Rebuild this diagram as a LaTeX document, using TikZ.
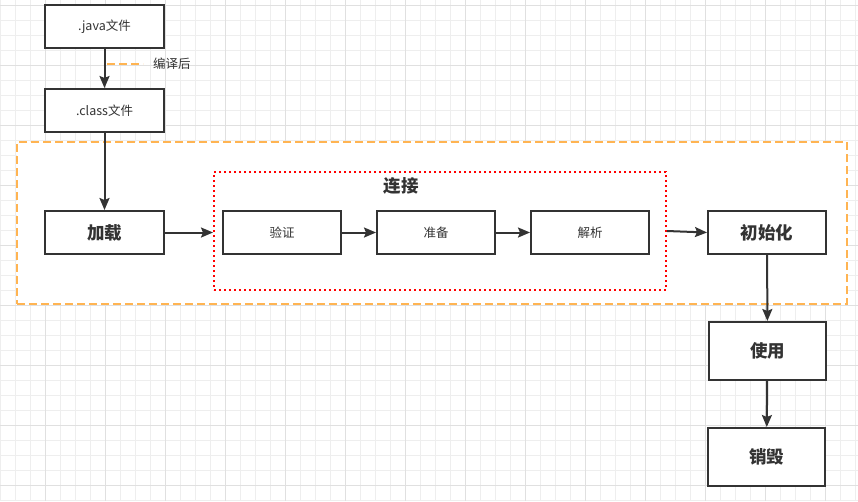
\documentclass[tikz,border=0pt]{standalone}
\usepackage{fontspec}
\setmainfont{Noto Sans CJK SC}
\usetikzlibrary{arrows.meta}
\definecolor{ink}{HTML}{333333}
\definecolor{gridminor}{HTML}{EEEEEE}
\definecolor{gridmajor}{HTML}{E0E0E0}
\definecolor{orangedash}{HTML}{FFB452}
\tikzset{
  box/.style={draw=ink, line width=2pt, fill=white, text=ink, inner sep=0pt,
    font=\fontsize{12.5}{15}\selectfont},
  bigbox/.style={box, font=\fontsize{17.5}{20}\selectfont\bfseries},
  arr/.style={draw=ink, line width=2pt, -{Stealth[length=12pt,width=10pt,inset=2pt]}},
  orangebox/.style={draw=orangedash, line width=2pt, dash pattern=on 8pt off 4pt, fill=white},
  redbox/.style={draw=red, line width=2pt, dash pattern=on 2pt off 3pt},
}
\begin{document}
\begin{tikzpicture}[x=1pt,y=-1pt]
\useasboundingbox (0,0) rectangle (858,501);
\fill[white] (0,0) rectangle (858,501);
% grid
\foreach \x in {0,15,...,855} \draw[gridminor, line width=0.8pt] (\x,0) -- (\x,501);
\foreach \y in {5,20,...,500} \draw[gridminor, line width=0.8pt] (0,\y) -- (858,\y);
\foreach \x in {45,105,...,855} \draw[gridmajor, line width=0.8pt] (\x,0) -- (\x,501);
\foreach \y in {5,65,...,500} \draw[gridmajor, line width=0.8pt] (0,\y) -- (858,\y);

% stage container
\node[orangebox, minimum width=830pt, minimum height=162pt] (stage) at (432,223) {};
% link container
\node[redbox, minimum width=452pt, minimum height=118pt] (link) at (440,231) {};
\node[text=ink, font=\fontsize{17.5}{20}\selectfont\bfseries] (linklbl) at (401,186) {连接};

% nodes
\node[box, minimum width=119pt, minimum height=43pt] (java) at (104.5,26.5) {.java文件};
\node[box, minimum width=119pt, minimum height=43pt] (class) at (104.5,110.5) {.class文件};
\node[bigbox, minimum width=119pt, minimum height=43pt] (load) at (104.5,232.5) {加载};
\node[box, minimum width=118pt, minimum height=43pt] (verify) at (282,232.5) {验证};
\node[box, minimum width=118pt, minimum height=43pt] (prep) at (436,232.5) {准备};
\node[box, minimum width=118pt, minimum height=43pt] (resolve) at (590,232.5) {解析};
\node[bigbox, minimum width=118pt, minimum height=43pt] (init) at (767,232.5) {初始化};
\node[bigbox, minimum width=117pt, minimum height=58pt] (use) at (767.5,351) {使用};
\node[bigbox, minimum width=117pt, minimum height=58pt] (destroy) at (766.5,457) {销毁};

% legend
\coordinate (lgA) at (107,64);
\coordinate (lgB) at (143,64);
\draw[draw=orangedash, line width=2pt, dash pattern=on 8pt off 4pt] (lgA) -- (lgB);
\node[anchor=west, text=ink, font=\fontsize{12.5}{15}\selectfont, inner sep=0pt] (lgtext) at (153,64) {编译后};

% connectors
\draw[arr] (java) -- (class);
\draw[arr] (class) -- (load);
\draw[arr] (load.east) -- (link.west |- load.east);
\draw[arr] (verify) -- (prep);
\draw[arr] (prep) -- (resolve);
\draw[arr] (link.east) -- (init.west);
\draw[arr] (init) -- (use);
\draw[arr] (use) -- (destroy);
\end{tikzpicture}
\end{document}
